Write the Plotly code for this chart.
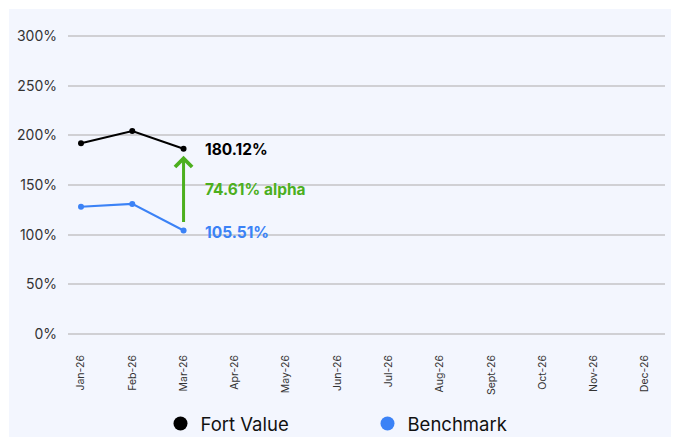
import plotly.graph_objects as go

months = ["Jan-26", "Feb-26", "Mar-26", "Apr-26", "May-26", "Jun-26",
          "Jul-26", "Aug-26", "Sept-26", "Oct-26", "Nov-26", "Dec-26"]
fort_value = [192.0, 204.3, 186.5]
benchmark = [128.0, 131.0, 104.2]
y_ticks = [0, 50, 100, 150, 200, 250, 300]
y_tick_labels = ["0%", "50%", "100%", "150%", "200%", "250%", "300%"]
fort_label = "180.12%"
bench_label = "105.51%"
alpha_label = "74.61% alpha"

BLACK = "#000000"
BLUE = "#3B82F6"
GREEN = "#4CAF1E"
PANEL = "#F3F6FE"
GRID = "#D0D0D4"
FONT = "Inter"

fig = go.Figure()
fig.add_trace(go.Scatter(x=months[:len(fort_value)], y=fort_value, mode="lines+markers",
                         line=dict(color=BLACK, width=2), marker=dict(size=6, color=BLACK),
                         showlegend=False, hoverinfo="skip"))
fig.add_trace(go.Scatter(x=months[:len(benchmark)], y=benchmark, mode="lines+markers",
                         line=dict(color=BLUE, width=2), marker=dict(size=6, color=BLUE),
                         showlegend=False, hoverinfo="skip"))
fig.add_trace(go.Scatter(x=[None], y=[None], mode="markers", name="Fort Value",
                         marker=dict(size=14, color=BLACK)))
fig.add_trace(go.Scatter(x=[None], y=[None], mode="markers", name="Benchmark",
                         marker=dict(size=14, color=BLUE)))

last = len(fort_value) - 1
xm = months[last]
fig.add_annotation(x=xm, y=fort_value[last], ax=xm, ay=benchmark[last],
                   xref="x", yref="y", axref="x", ayref="y", text="",
                   showarrow=True, arrowhead=4, arrowsize=1.1, arrowwidth=3,
                   arrowcolor=GREEN, standoff=7, startstandoff=7)
fig.add_annotation(x=xm, y=fort_value[last], text="<b>%s</b>" % fort_label, showarrow=False,
                   xanchor="left", yanchor="middle", xshift=19, yshift=-1,
                   font=dict(family=FONT, size=15.5, color=BLACK))
fig.add_annotation(x=xm, y=(fort_value[last] + benchmark[last]) / 2, text="<b>%s</b>" % alpha_label,
                   showarrow=False, xanchor="left", yanchor="middle", xshift=19, yshift=0,
                   font=dict(family=FONT, size=15.5, color=GREEN))
fig.add_annotation(x=xm, y=benchmark[last], text="<b>%s</b>" % bench_label, showarrow=False,
                   xanchor="left", yanchor="middle", xshift=19, yshift=-2,
                   font=dict(family=FONT, size=15.5, color=BLUE))

# panel background
L, R, T, B = 68, 10, 34, 101
W, H = 675, 437
pw, ph = W - L - R, H - T - B
fig.add_shape(type="rect", xref="paper", yref="paper", layer="below",
              x0=(9 - L) / pw, x1=(671 - L) / pw, y0=-(B + 2) / ph, y1=(T - 9) / ph + 1,
              fillcolor=PANEL, line=dict(width=0))

fig.update_layout(
    width=W, height=H,
    margin=dict(l=L, r=R, t=T, b=B, autoexpand=False),
    paper_bgcolor="white", plot_bgcolor="rgba(0,0,0,0)",
    font=dict(family=FONT, color="#333333"),
    legend=dict(orientation="h", xref="container", yref="container",
                x=367.5 / W, xanchor="center", y=(H - 424) / H, yanchor="middle",
                bgcolor="rgba(0,0,0,0)",
                font=dict(family=FONT, size=18.5, color="#111111"),
                entrywidth=162, itemwidth=30),
    xaxis=dict(type="category", categoryarray=months, categoryorder="array",
               tickmode="array", tickvals=months, ticktext=months, automargin=False,
               range=[-0.2536, 11.39], showgrid=False, zeroline=False, showline=False,
               tickangle=-90, tickfont=dict(family=FONT, size=10.5, color="#333333"),
               ticks="", ticklabelstandoff=16),
    yaxis=dict(range=[-2, 302], tickvals=y_ticks, ticktext=y_tick_labels, automargin=False,
               showgrid=True, gridcolor=GRID, gridwidth=2, zeroline=False, showline=False,
               tickfont=dict(family=FONT, size=14, color="#333333"),
               ticks="", ticklabelstandoff=10),
)

fig.write_html("out.html", post_script="document.body.style.margin='0';",
               config={"displayModeBar": False})
